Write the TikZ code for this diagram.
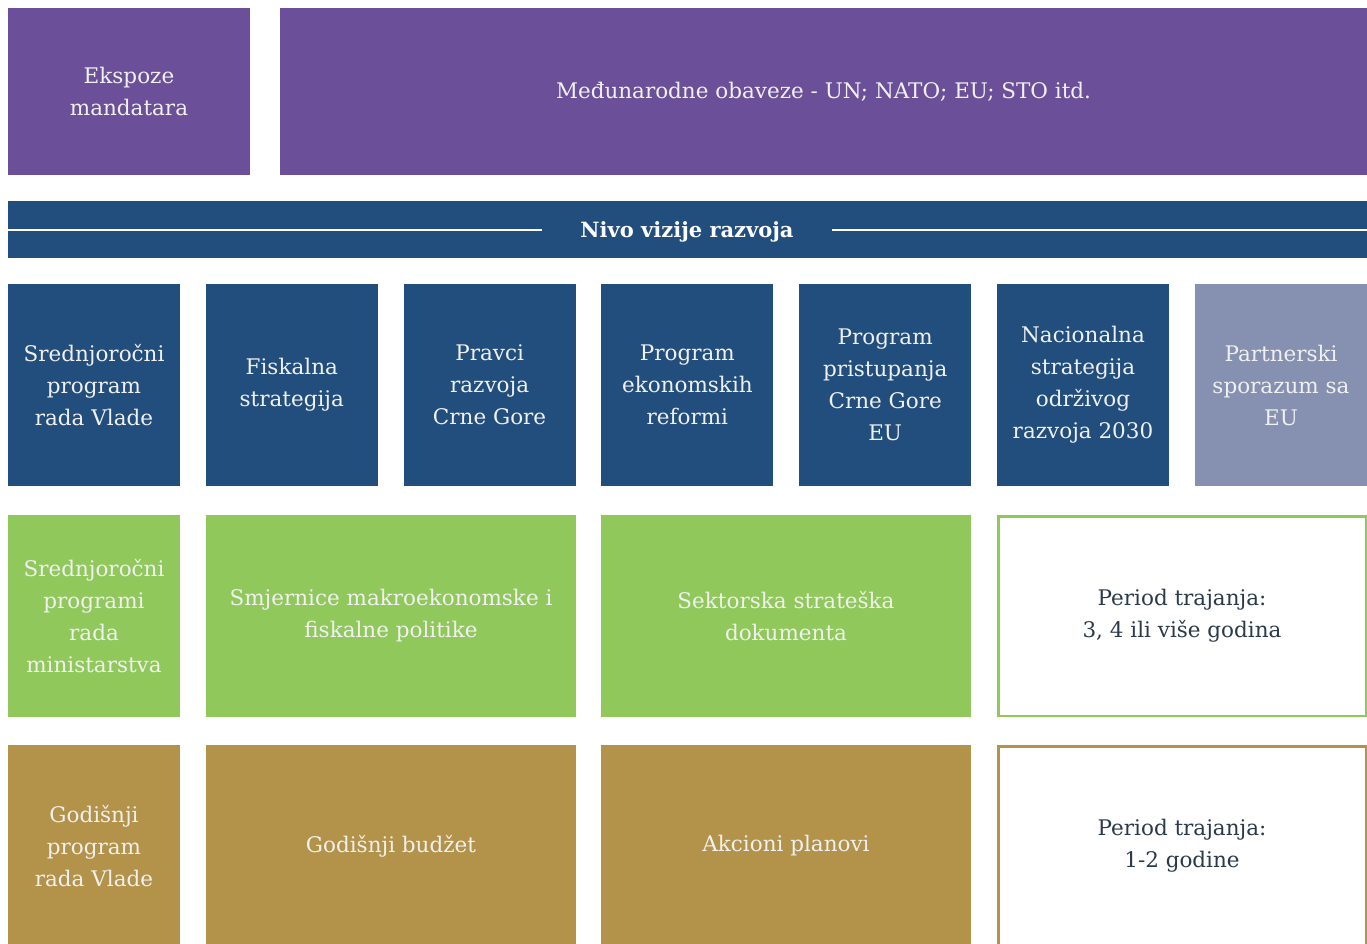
\documentclass[tikz,border=0pt]{standalone}
\usepackage{fontspec}
\setmainfont{DejaVu Serif}
\definecolor{ljubicasta}{HTML}{6B4F98}
\definecolor{plava}{HTML}{224E7E}
\definecolor{sivoplava}{HTML}{8690B0}
\definecolor{zelena}{HTML}{90C85C}
\definecolor{zlatna}{HTML}{B3924A}
\definecolor{tamna}{HTML}{2B3A4A}
\tikzset{
  polje/.style={inner sep=0pt, align=center, text=white!94!black,
    font=\fontsize{21.5}{32}\selectfont},
  uski/.style={polje, minimum width=172pt, minimum height=202pt},
  siroki/.style={polje, minimum width=370pt, minimum height=202pt},
  okvir/.style={siroki, fill=white, line width=2.5pt, text=tamna,
    minimum width=367.5pt, minimum height=199.5pt}
}
\begin{document}
\begin{tikzpicture}[x=1pt,y=-1pt]
\useasboundingbox (0,0) rectangle (1367,943);

% gornji red
\node[polje, fill=ljubicasta, minimum width=242pt, minimum height=167pt] (ekspoze) at (129,91.5) {Ekspoze\\mandatara};
\node[polje, fill=ljubicasta, minimum width=1087pt, minimum height=167pt] (obaveze) at (823.5,91.5) {Međunarodne obaveze - UN; NATO; EU; STO itd.};

% traka
\node[fill=plava, minimum width=1359pt, minimum height=57pt, inner sep=0pt] (traka) at (687.5,229.5) {};
\node[polje, font=\fontsize{21}{32}\selectfont\bfseries, text=white, inner xsep=38pt] (nivo) at (687,231.5) {Nivo vizije razvoja};
\draw[white, line width=2pt] (traka.west) -- (traka.west -| nivo.west);
\draw[white, line width=2pt] (traka.east -| nivo.east) -- (traka.east);

% dokumenti
\foreach \i/\txt in {1/{Srednjoročni\\program\\rada Vlade},2/{Fiskalna\\strategija},
  3/{Pravci\\razvoja\\Crne Gore},4/{Program\\ekonomskih\\reformi},
  5/{Program\\pristupanja\\Crne Gore\\EU},6/{Nacionalna\\strategija\\održivog\\razvoja 2030}}
{
    \node[uski, fill=plava] (dok\i) at (94+\i*197.8-197.8,385) {\txt};
}
\node[uski, fill=sivoplava] (dok7) at (1281,385) {Partnerski\\sporazum sa\\EU};

% srednjorocni nivo
\node[uski, fill=zelena] (srednji1) at (94,616) {Srednjoročni\\programi\\rada\\ministarstva};
\node[siroki, fill=zelena] (srednji2) at (391,616) {Smjernice makroekonomske i\\fiskalne politike};
\node[siroki, fill=zelena] (srednji3) at (786,616) {Sektorska strateška\\dokumenta};
\node[okvir, draw=zelena] (srednji4) at (1182,616) {Period trajanja:\\3, 4 ili više godina};

% godisnji nivo
\node[uski, fill=zlatna] (godisnji1) at (94,846) {Godišnji\\program\\rada Vlade};
\node[siroki, fill=zlatna] (godisnji2) at (391,846) {Godišnji budžet};
\node[siroki, fill=zlatna] (godisnji3) at (786,846) {Akcioni planovi};
\node[okvir, draw=zlatna] (godisnji4) at (1182,846) {Period trajanja:\\1-2 godine};

\end{tikzpicture}
\end{document}
